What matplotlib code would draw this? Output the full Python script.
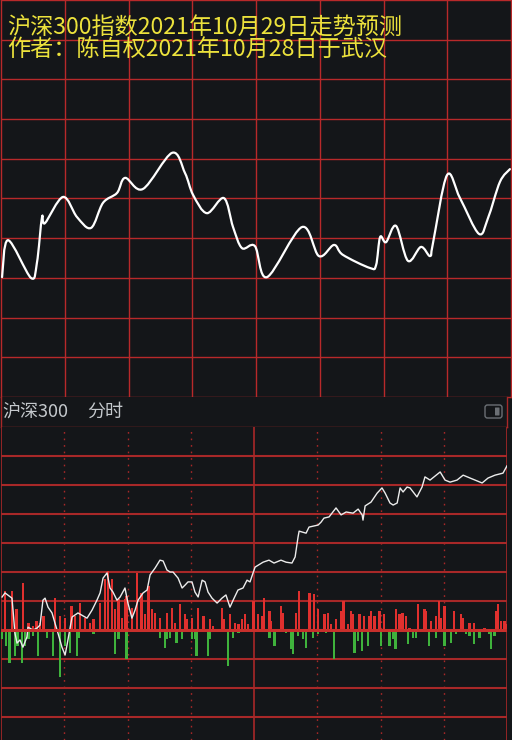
import numpy as np
import matplotlib
matplotlib.use("Agg")
import matplotlib.pyplot as plt
from matplotlib.path import Path
from matplotlib.patches import PathPatch, FancyBboxPatch

plt.rcParams['font.family'] = ['Noto Sans CJK SC', 'DejaVu Sans']

# ---- 预测走势 (上图), 时间为分钟 0..240, 纵向为格数 0..10
pred_min = [0.5, 3.3, 14.1, 16.9, 19.3, 20.7, 29.2, 35.8, 42.4, 48.0, 54.6, 58.4,
            66.8, 80.5, 86.6, 90.4, 96.9, 104.9, 109.2, 113.4, 119.5, 125.2,
            141.6, 149.6, 156.7, 160.9, 173.6, 176.5, 178.4, 181.2, 185.9,
            191.5, 197.6, 201.9, 203.3, 209.9, 216.0, 224.9, 229.2, 234.8, 239.5]
pred_val = [3.02, 3.95, 3.00, 3.38, 4.53, 4.38, 5.04, 4.53, 4.26, 4.89, 5.14, 5.52,
            5.24, 6.15, 5.64, 5.09, 4.63, 5.01, 4.28, 3.75, 3.80, 3.02,
            4.28, 3.55, 3.83, 3.58, 3.25, 3.32, 4.03, 3.90, 4.31,
            3.43, 3.78, 3.55, 3.88, 5.59, 5.01, 4.11, 4.51, 5.42, 5.74]

# ---- 实际分时 (下图)
real_min = [0.5, 1.9, 5.2, 5.7, 6.6, 7.6, 9.0, 10.4, 12.3, 12.8, 15.2, 17.1, 18.5,
            19.9, 20.9, 22.3, 24.2, 25.6, 27.0, 28.9, 30.4, 31.3, 33.7, 36.5,
            40.8, 43.2, 45.5, 47.0, 48.4, 50.3, 51.7, 53.1, 55.0, 56.5, 58.8,
            60.2, 62.1, 63.6, 65.0, 67.4, 69.3, 70.7, 73.1, 75.4, 76.9, 78.7,
            80.2, 81.6, 84.0, 85.9, 87.3, 88.7, 90.6, 92.0, 93.5, 95.4, 96.8,
            98.2, 100.1, 102.5, 104.8, 106.7, 108.6, 110.1, 112.4, 114.8, 116.7,
            118.1, 120.5, 124.3, 127.1, 129.5, 132.8, 135.2, 138.0, 139.5, 140.9,
            141.4, 144.7, 146.1, 150.4, 151.8, 153.2, 155.6, 158.9, 161.3, 163.7,
            167.0, 169.4, 171.3, 171.7, 172.7, 175.5, 178.4, 180.7, 182.2, 184.5,
            186.0, 187.9, 189.3, 190.7, 192.6, 194.0, 197.3, 199.7, 201.1, 203.5,
            208.3, 210.6, 213.0, 216.3, 219.2, 222.5, 228.2, 231.0, 234.3, 238.1,
            240.0]
real_val = [1.14, 1.28, 1.10, 0.69, -0.10, -0.45, -0.34, -0.59, -0.24, 0.10, 0.00,
            0.07, 0.17, 1.03, 1.10, 0.79, 0.59, 0.24, -0.10, -0.59, -0.86, -0.52,
            0.45, 0.59, 0.41, 0.69, 1.03, 1.28, 1.79, 1.97, 1.45, 1.31, 1.03, 1.14,
            1.45, 0.93, 0.41, 0.69, 1.03, 1.28, 1.38, 1.90, 2.14, 2.41, 2.38, 2.07,
            2.00, 2.00, 1.79, 1.45, 1.55, 1.66, 1.66, 1.31, 1.14, 1.72, 1.66, 1.31,
            1.10, 0.93, 1.10, 1.21, 0.79, 1.03, 1.38, 1.45, 1.72, 1.66, 2.17, 2.34,
            2.41, 2.31, 2.41, 2.34, 2.31, 2.52, 3.21, 3.41, 3.34, 3.55, 3.62, 3.72,
            3.86, 3.90, 4.21, 3.97, 4.07, 4.03, 4.17, 3.97, 3.79, 4.28, 4.41, 4.72,
            4.90, 4.72, 4.38, 4.31, 4.38, 4.90, 4.76, 4.93, 4.90, 4.59, 4.93, 5.28,
            5.17, 5.45, 5.17, 5.10, 5.17, 5.34, 5.24, 5.07, 5.24, 5.34, 5.41, 5.66]

# 成交量 (红: 上涨, 绿: 下跌)
vol_up_min = [1.9, 5.1, 7.4, 10.3, 13.0, 15.3, 16.9, 18.5, 20.1, 25.6, 28.0, 30.4,
              33.5, 35.1, 37.5, 39.8, 42.2, 43.8, 47.0, 49.3, 50.9, 52.5, 54.1,
              55.7, 57.3, 58.8, 59.6, 62.0, 64.4, 66.7, 68.3, 69.9, 71.5, 73.1,
              75.4, 78.6, 81.0, 82.5, 84.9, 87.3, 88.1, 90.5, 93.6, 96.0, 99.1,
              100.7, 104.7, 105.5, 108.6, 111.0, 112.6, 114.2, 115.7, 117.3, 119.7,
              121.8, 124.1, 124.9, 127.3, 128.1, 132.8, 133.6, 139.9, 141.5, 146.3,
              148.6, 150.2, 153.4, 155.0, 156.5, 158.9, 161.3, 162.4, 164.5, 166.0,
              166.8, 170.0, 172.3, 174.7, 175.5, 177.1, 179.5, 181.8, 187.4, 189.0,
              190.5, 192.1, 193.7, 197.7, 200.8, 201.6, 204.0, 206.4, 207.9, 208.7,
              210.3, 215.0, 218.2, 219.0, 222.2, 224.5, 229.3, 234.8, 235.6, 237.2,
              238.8, 239.6]
vol_up = [1.34, 1.34, 0.71, 1.63, 0.25, 0.14, 0.31, 0.25, 0.48, 1.11, 0.48, 0.43,
          0.83, 0.48, 0.94, 0.43, 0.25, 0.37, 0.94, 1.75, 2.03, 1.75, 0.71, 1.06,
          0.43, 1.06, 1.17, 0.77, 1.98, 1.29, 0.54, 1.52, 0.71, 0.60, 0.43, 0.60,
          0.77, 0.25, 0.89, 0.54, 0.37, 0.43, 0.77, 0.48, 0.37, 0.14, 0.77, 0.37,
          0.54, 0.25, 0.20, 0.37, 0.54, 0.20, 1.00,
          0.54, 0.48, 1.11, 0.66, 0.31, 0.83, 0.60, 0.60, 1.34, 1.29, 1.23, 0.71,
          0.54, 0.60, 0.20, 0.37, 0.66, 1.00, 0.20, 0.66, 0.54, 0.54, 0.48, 0.48,
          0.66, 0.48, 0.66, 0.54, 0.71, 0.54, 0.60, 0.48, 0.08, 0.89, 0.71, 0.66,
          0.31, 0.48, 1.00, 0.43, 0.83, 0.66, 0.54, 0.43, 0.25, 0.25, 0.08, 0.66,
          0.89, 0.31, 0.31, 0.20]
vol_dn_min = [0.3, 2.4, 4.0, 6.6, 7.8, 9.8, 11.4, 13.0, 15.3, 17.7, 21.7, 24.8,
              28.0, 30.4, 32.7, 35.9, 36.7, 43.8, 54.1, 55.7, 59.6, 75.4, 77.8,
              78.6, 80.2, 83.3, 85.7, 90.5, 92.0, 92.8, 98.3, 99.1, 107.8, 110.2,
              112.6, 127.3, 129.7, 135.2, 137.6, 138.4, 140.8, 143.1, 144.7, 147.9,
              150.2, 154.2, 158.1, 167.6, 169.2, 171.3, 174.0, 180.3, 184.2, 185.8,
              187.1, 192.9, 195.3, 196.9, 202.9, 206.4, 210.3, 213.5, 215.8, 220.6,
              222.2, 224.5, 226.9, 231.6, 232.4, 234.0]
vol_dn = [0.32, 0.55, 1.13, 0.90, 0.55, 1.13, 0.55, 0.32, 0.21, 0.90, 0.26, 0.90,
          1.63, 0.55, 0.78, 0.90, 0.26, 0.15, 0.84, 0.32, 1.01, 0.26, 0.61, 0.32,
          0.26, 0.44, 0.32, 0.32, 0.32, 0.90, 0.90, 0.32, 1.24, 0.26, 0.09,
          0.26, 0.55, 0.09, 0.67, 0.84, 0.21, 0.32, 0.61, 0.26, 0.15, 0.09, 1.01,
          0.78, 0.38, 0.72, 0.55, 0.55, 0.55, 0.32, 0.67, 0.49, 0.26, 0.26, 0.55,
          0.26, 0.55, 0.44, 0.15, 0.15, 0.21, 0.49, 0.26, 0.15, 0.67, 0.21]

title1 = "沪深300指数2021年10月29日走势预测"
title2 = "作者：陈自权2021年10月28日于武汉"
header = "沪深300"
header2 = "分时"

bg = '#141619'
grid_top = '#b8292a'
grid_bot = '#a82828'

W, H = 512, 740
fig = plt.figure(figsize=(W / 100, H / 100), dpi=100)
fig.patch.set_facecolor(bg)


def px_axes(x0, y0, x1, y1):
    # pixel box (top-left origin) -> figure axes
    return fig.add_axes([x0 / W, 1 - y1 / H, (x1 - x0) / W, (y1 - y0) / H])


# ---------------- 上图 ----------------
ax1 = px_axes(1, 0, 511, 397)
ax1.set_facecolor(bg)
ax1.set_xlim(0, 240)
ax1.set_ylim(0, 10)
for v in range(30, 240, 30):
    ax1.axvline(v, color=grid_top, lw=1.0, zorder=1)
for h in range(1, 10):
    ax1.axhline(h, color=grid_top, lw=1.0, zorder=1)
for s in ax1.spines.values():
    s.set_color(grid_top)
    s.set_linewidth(1.0)
ax1.set_xticks([])
ax1.set_yticks([])

# 平滑曲线 (Catmull-Rom -> Bezier)
P = np.column_stack([pred_min, pred_val])
verts = [P[0]]
codes = [Path.MOVETO]
for i in range(len(P) - 1):
    p0 = P[max(i - 1, 0)]
    p1 = P[i]
    p2 = P[i + 1]
    p3 = P[min(i + 2, len(P) - 1)]
    verts += [p1 + (p2 - p0) / 6, p2 - (p3 - p1) / 6, p2]
    codes += [Path.CURVE4] * 3
ax1.add_patch(PathPatch(Path(verts, codes), fill=False, edgecolor='white',
                        lw=1.6, zorder=3, capstyle='round', joinstyle='round'))

ax1.text(0.012, 0.930, title1, transform=ax1.transAxes, color='#ece23c',
         fontsize=16.7, va='center', ha='left', zorder=4)
ax1.text(0.012, 0.872, title2, transform=ax1.transAxes, color='#ece23c',
         fontsize=16.7, va='center', ha='left', zorder=4)

# ---------------- 标题栏 ----------------
axh = px_axes(1, 397, 507, 427)
axh.set_facecolor(bg)
axh.set_xlim(0, 506)
axh.set_ylim(0, 30)
axh.set_xticks([])
axh.set_yticks([])
for s in axh.spines.values():
    s.set_color(grid_bot)
    s.set_linewidth(1.0)
axh.spines['top'].set_visible(False)
axh.text(1, 15, header, color='#c4c8cc', fontsize=13, va='center', ha='left')
axh.text(86, 15, header2, color='#c4c8cc', fontsize=13, va='center', ha='left')
axh.add_patch(FancyBboxPatch((484, 9), 17, 13, boxstyle='round,pad=0,rounding_size=2.5',
                             fill=False, edgecolor='#6b6f74', lw=1.0))
axh.add_patch(FancyBboxPatch((494, 11.5), 4.5, 8, boxstyle='round,pad=0,rounding_size=0.5',
                             facecolor='#6b6f74', edgecolor='none'))

# ---------------- 下图 ----------------
ax2 = px_axes(1, 427, 507, 740)
ax2.set_facecolor(bg)
ax2.set_xlim(0, 240)
ax2.set_ylim(-3.79, 7.0)
ax2.set_xticks([])
ax2.set_yticks([])
for s in ax2.spines.values():
    s.set_visible(False)
ax2.axvline(0, color=grid_bot, lw=1.2, zorder=1)
ax2.axvline(240, color=grid_bot, lw=1.2, zorder=1)
ax2.axvline(120, color=grid_bot, lw=1.2, zorder=1)
for v in [30, 60, 90, 150, 180, 210]:
    ax2.axvline(v, color=grid_bot, lw=1.0, ls=(0, (1.2, 3.5)), zorder=1)
for h in range(-3, 7):
    if h != 0:
        ax2.axhline(h, color=grid_bot, lw=1.5, zorder=1)

ax2.plot(real_min, real_val, color='#ececec', lw=1.0, zorder=3)
ax2.bar(vol_up_min, vol_up, width=1.1, bottom=0, color='#e0302e', zorder=2)
ax2.bar(vol_dn_min, [-v for v in vol_dn], width=1.1, bottom=0, color='#3fb23c', zorder=2)
ax2.axhline(0, color='#c8302c', lw=2.2, zorder=4)

fig.savefig('out.png', dpi=100, facecolor=bg)
